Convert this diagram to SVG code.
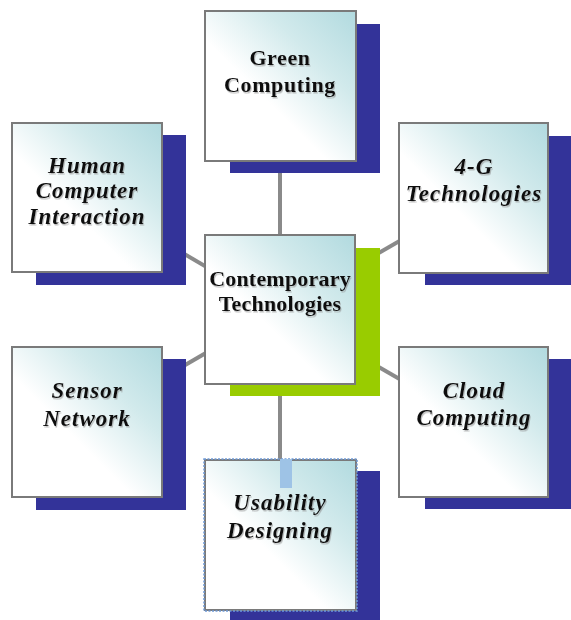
<svg xmlns="http://www.w3.org/2000/svg" width="571" height="620" viewBox="0 0 571 620">
<defs>
<linearGradient id="fillg" x1="1" y1="0" x2="0.15" y2="0.85">
<stop offset="0" stop-color="#b1dadf"/>
<stop offset="0.35" stop-color="#d2eaec"/>
<stop offset="0.7" stop-color="#ffffff"/>
<stop offset="1" stop-color="#ffffff"/>
</linearGradient>
<filter id="ts" x="-10%" y="-20%" width="120%" height="140%">
<feDropShadow dx="1" dy="1.5" stdDeviation="0.7" flood-color="#888" flood-opacity="0.55"/>
</filter>
</defs>
<style>
.shadow{fill:#333399}
.gshadow{fill:#99cc00}
.box{fill:url(#fillg);stroke:#7a7a7a;stroke-width:2}
.sel{fill:none;stroke:#6f9bd8;stroke-width:1.5;stroke-dasharray:2 1.5}
.lbl{font-family:"Liberation Serif","Times New Roman",serif;font-weight:bold;font-size:22px;fill:#111;text-anchor:middle;filter:url(#ts);letter-spacing:0.6px}
.it{font-style:italic;font-size:23px;letter-spacing:1px}
.conn{stroke:#8a8a8a;stroke-width:4;fill:none}
</style>
<rect width="571" height="620" fill="#ffffff"/>
<g id="connectors">
<line class="conn" x1="280" y1="86" x2="280" y2="535"/>
<line class="conn" x1="87" y1="197" x2="280" y2="310"/>
<line class="conn" x1="87" y1="422" x2="280" y2="310"/>
<line class="conn" x1="474" y1="198" x2="280" y2="310"/>
<line class="conn" x1="474" y1="422" x2="280" y2="310"/>
</g>
<g id="green-computing">
<rect class="shadow" x="230" y="24" width="150" height="149"/>
<rect class="box" x="205" y="11" width="151" height="150"/>
<text class="lbl" x="280" y="65">Green</text>
<text class="lbl" x="280" y="92">Computing</text>
</g>
<g id="human-computer-interaction">
<rect class="shadow" x="36" y="135" width="150" height="150"/>
<rect class="box" x="12" y="123" width="150" height="149"/>
<text class="lbl it" x="87" y="173">Human</text>
<text class="lbl it" x="87" y="198">Computer</text>
<text class="lbl it" x="87" y="224">Interaction</text>
</g>
<g id="four-g-technologies">
<rect class="shadow" x="425" y="136" width="146" height="149"/>
<rect class="box" x="399" y="123" width="149" height="150"/>
<text class="lbl it" x="474" y="174">4-G</text>
<text class="lbl it" x="474" y="201">Technologies</text>
</g>
<g id="sensor-network">
<rect class="shadow" x="36" y="359" width="150" height="151"/>
<rect class="box" x="12" y="347" width="150" height="150"/>
<text class="lbl it" x="87" y="398">Sensor</text>
<text class="lbl it" x="87" y="426">Network</text>
</g>
<g id="cloud-computing">
<rect class="shadow" x="425" y="359" width="146" height="150"/>
<rect class="box" x="399" y="347" width="149" height="150"/>
<text class="lbl it" x="474" y="398">Cloud</text>
<text class="lbl it" x="474" y="425">Computing</text>
</g>
<g id="contemporary-technologies">
<rect class="gshadow" x="230" y="248" width="150" height="148"/>
<rect class="box" x="205" y="235" width="150" height="149"/>
<text class="lbl" x="280" y="286" fill="#1a1a3a" style="letter-spacing:0.2px">Contemporary</text>
<text class="lbl" x="280" y="311" fill="#1a1a3a" style="letter-spacing:0.2px">Technologies</text>
</g>
<g id="usability-designing">
<rect class="shadow" x="230" y="471" width="150" height="149"/>
<rect class="box" x="205" y="460" width="151" height="150"/>
<rect class="sel" x="204" y="459" width="153" height="152"/>
<rect x="280" y="459" width="12" height="29" fill="#9ec3e6"/>
<text class="lbl it" x="280" y="510">Usability</text>
<text class="lbl it" x="280" y="538">Designing</text>
</g>
</svg>
